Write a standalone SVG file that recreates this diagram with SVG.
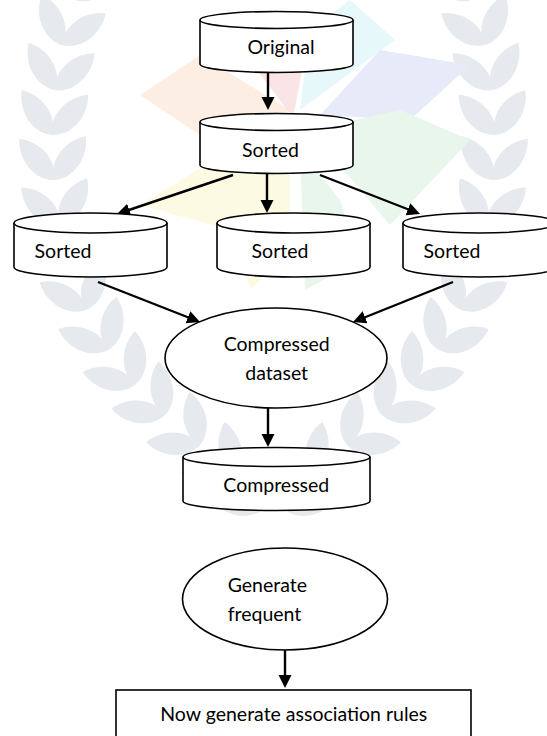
<svg xmlns="http://www.w3.org/2000/svg" xmlns:xlink="http://www.w3.org/1999/xlink" width="547" height="736" viewBox="0 0 547 736">
<style>
.shape{fill:#fff;stroke:#000;stroke-width:1.6}
.conn{stroke:#000;stroke-width:2.4;fill:none;marker-end:url(#arrow)}
.lbl{font-family:Lato,"Open Sans",sans-serif;font-size:19.5px;fill:#000;text-anchor:middle}
.lft{text-anchor:start}
.wm{fill:#e6e9ee}
</style>
<defs>
<marker id="arrow" markerUnits="userSpaceOnUse" markerWidth="14" markerHeight="14" refX="2" refY="6.5" orient="auto">
<path d="M0,0 L13,6.5 L0,13 Z" fill="#000"/>
</marker>
<path id="leaf" d="M0,0 C15,-12 15,-38 0,-54 C-15,-38 -15,-12 0,0 Z"/>
<g id="branch" class="wm">
<use xlink:href="#leaf" transform="translate(262,510) rotate(-76)"/>
<use xlink:href="#leaf" transform="translate(262,510) rotate(0)"/>
<use xlink:href="#leaf" transform="translate(235,475) rotate(-87)"/>
<use xlink:href="#leaf" transform="translate(235,475) rotate(-11)"/>
<use xlink:href="#leaf" transform="translate(200,445) rotate(-87)"/>
<use xlink:href="#leaf" transform="translate(200,445) rotate(-11)"/>
<use xlink:href="#leaf" transform="translate(165,415) rotate(-83)"/>
<use xlink:href="#leaf" transform="translate(165,415) rotate(-7)"/>
<use xlink:href="#leaf" transform="translate(135,385) rotate(-76)"/>
<use xlink:href="#leaf" transform="translate(135,385) rotate(0)"/>
<use xlink:href="#leaf" transform="translate(108,350) rotate(-67)"/>
<use xlink:href="#leaf" transform="translate(108,350) rotate(9)"/>
<use xlink:href="#leaf" transform="translate(86,310) rotate(-59)"/>
<use xlink:href="#leaf" transform="translate(86,310) rotate(17)"/>
<use xlink:href="#leaf" transform="translate(70,268) rotate(-51)"/>
<use xlink:href="#leaf" transform="translate(70,268) rotate(25)"/>
<use xlink:href="#leaf" transform="translate(60,225) rotate(-46)"/>
<use xlink:href="#leaf" transform="translate(60,225) rotate(30)"/>
<use xlink:href="#leaf" transform="translate(54,180) rotate(-40)"/>
<use xlink:href="#leaf" transform="translate(54,180) rotate(36)"/>
<use xlink:href="#leaf" transform="translate(52,135) rotate(-34)"/>
<use xlink:href="#leaf" transform="translate(52,135) rotate(42)"/>
<use xlink:href="#leaf" transform="translate(55,90) rotate(-29)"/>
<use xlink:href="#leaf" transform="translate(55,90) rotate(47)"/>
<use xlink:href="#leaf" transform="translate(62,45) rotate(-22)"/>
<use xlink:href="#leaf" transform="translate(62,45) rotate(54)"/>
<use xlink:href="#leaf" transform="translate(75,0) rotate(-20)"/>
<use xlink:href="#leaf" transform="translate(75,0) rotate(56)"/>
</g>
</defs>
<rect width="547" height="736" fill="#fff"/>
<g id="watermark">
<use xlink:href="#branch"/>
<use xlink:href="#branch" transform="translate(547,0) scale(-1,1)"/>
<polygon points="290,110 200,55 140,95 230,155" fill="#fdeee4"/>
<polygon points="293,118 250,60 270,10 305,55" fill="#fbe4e6"/>
<polygon points="300,110 310,30 350,0 395,40" fill="#e7f8fb"/>
<polygon points="320,115 380,50 470,65 410,120" fill="#e7eaf9"/>
<polygon points="310,130 400,110 470,140 390,225" fill="#e8f6eb"/>
<polygon points="290,140 230,150 140,205 230,230" fill="#fdfae4"/>
<polygon points="290,150 230,210 250,290 290,250" fill="#fdfae2"/>
<polygon points="300,150 340,200 360,260 305,290" fill="#e8f6eb"/>
</g>
<g id="connectors">
<line class="conn" x1="268" y1="72" x2="268" y2="99"/>
<line class="conn" x1="233" y1="175" x2="127.4" y2="210.5"/>
<line class="conn" x1="267" y1="172" x2="267" y2="202"/>
<line class="conn" x1="320" y1="175" x2="409.8" y2="210"/>
<line class="conn" x1="98" y1="282" x2="189.8" y2="318"/>
<line class="conn" x1="453" y1="282" x2="363.2" y2="318"/>
<line class="conn" x1="268" y1="408" x2="268" y2="436"/>
<line class="conn" x1="285" y1="650" x2="285" y2="677"/>
</g>
<g id="original">
<path class="shape" d="M200,20 V64 A76.5,8.5 0 0 0 353,64 V20"/>
<ellipse class="shape" cx="276.5" cy="20" rx="76.5" ry="8.5"/>
<text class="lbl" x="281" y="54">Original</text>
</g>
<g id="sorted-main">
<path class="shape" d="M200,122 V165 A76.5,8.5 0 0 0 353,165 V122"/>
<ellipse class="shape" cx="276.5" cy="122" rx="76.5" ry="8.5"/>
<text class="lbl" x="270.5" y="157">Sorted</text>
</g>
<g id="sorted-left">
<path class="shape" d="M14,223 V267 A76.5,10 0 0 0 167,267 V223"/>
<ellipse class="shape" cx="90.5" cy="223" rx="76.5" ry="10"/>
<text class="lbl" x="63" y="258">Sorted</text>
</g>
<g id="sorted-middle">
<path class="shape" d="M217,223 V267 A76.5,10 0 0 0 370,267 V223"/>
<ellipse class="shape" cx="293.5" cy="223" rx="76.5" ry="10"/>
<text class="lbl" x="280" y="258">Sorted</text>
</g>
<g id="sorted-right">
<path class="shape" d="M403,223 V267 A76.5,10 0 0 0 556,267 V223"/>
<ellipse class="shape" cx="479.5" cy="223" rx="76.5" ry="10"/>
<text class="lbl" x="452" y="258">Sorted</text>
</g>
<g id="compressed-dataset">
<ellipse class="shape" cx="276" cy="358" rx="111" ry="50"/>
<text class="lbl" x="276.7" y="351">Compressed</text>
<text class="lbl" x="276.7" y="380">dataset</text>
</g>
<g id="compressed">
<path class="shape" d="M183,457 V501 A93.5,9.5 0 0 0 370,501 V457"/>
<ellipse class="shape" cx="276.5" cy="457" rx="93.5" ry="9.5"/>
<text class="lbl" x="276.3" y="492">Compressed</text>
</g>
<g id="generate-frequent">
<ellipse class="shape" cx="285" cy="599" rx="102.5" ry="51"/>
<text class="lbl lft" x="227.7" y="592">Generate</text>
<text class="lbl lft" x="227.7" y="621">frequent</text>
</g>
<g id="association-rules">
<rect class="shape" x="116" y="690" width="355" height="60"/>
<text class="lbl" x="293.8" y="721">Now generate association rules</text>
</g>
</svg>
